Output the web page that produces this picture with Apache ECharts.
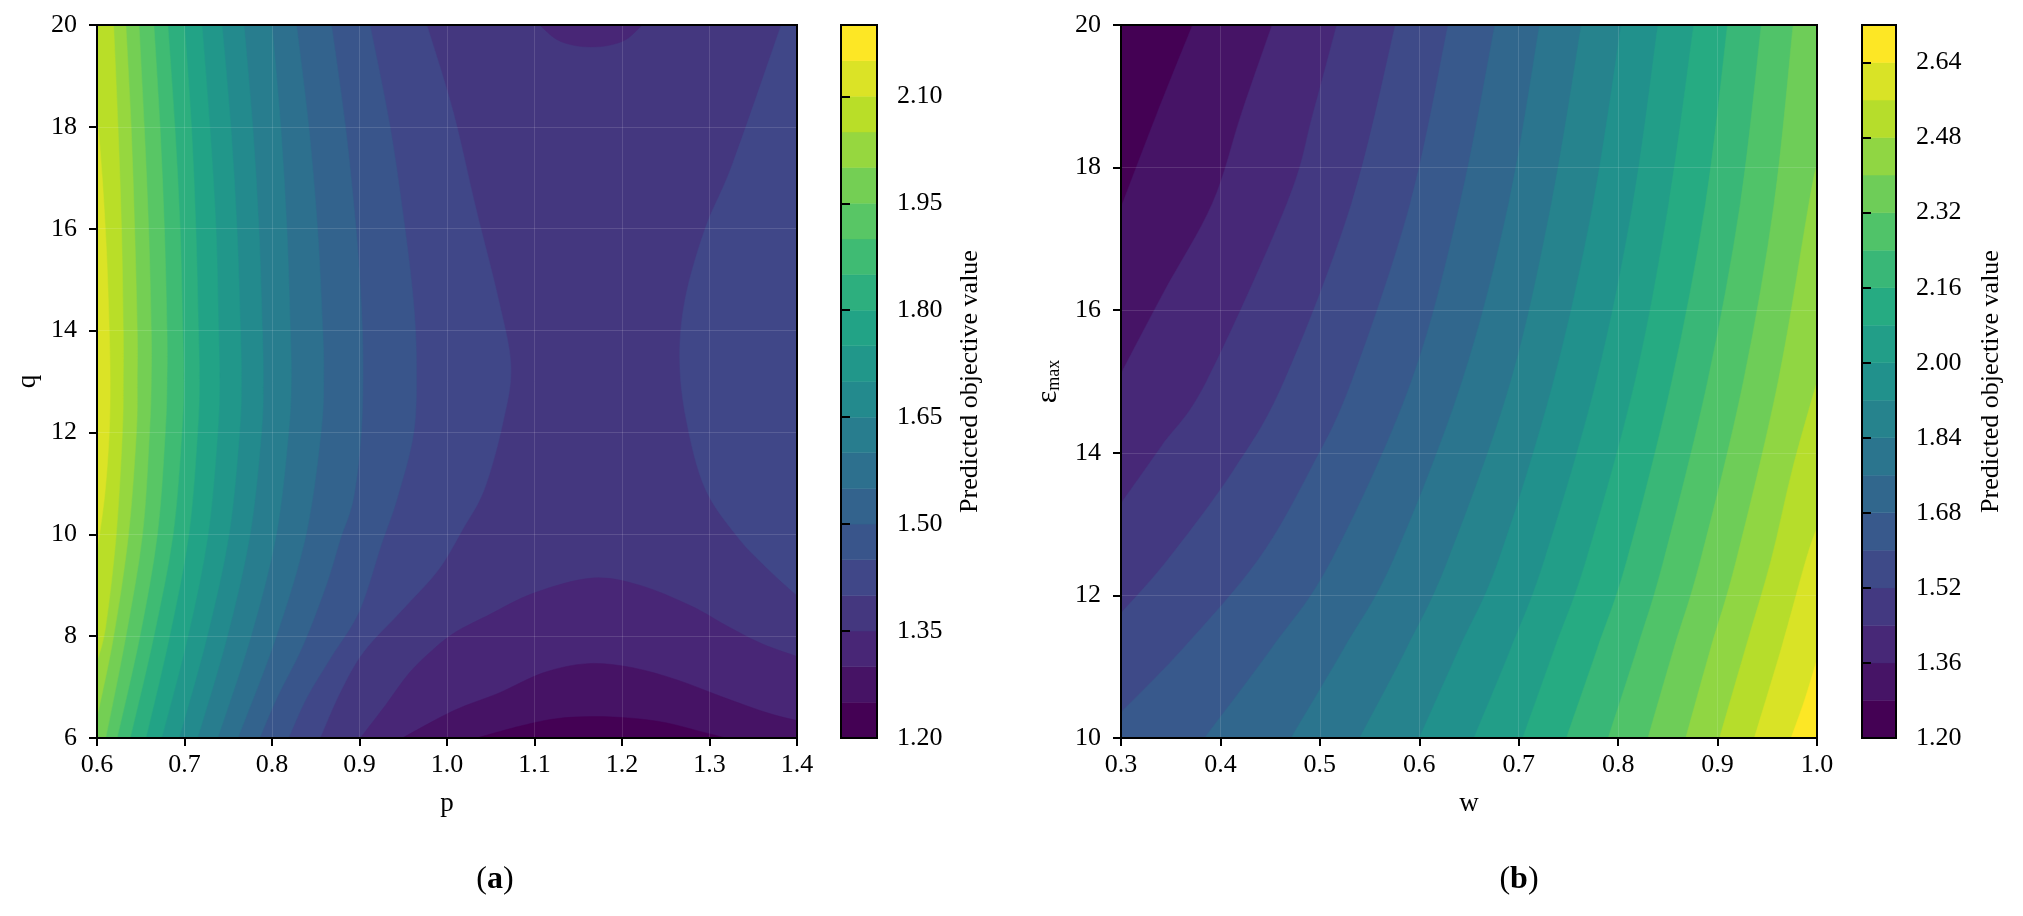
<!DOCTYPE html>
<html>
<head>
<meta charset="utf-8">
<script src="https://cdn.jsdelivr.net/npm/echarts@6.0.0/dist/echarts.min.js"></script>
<style>
  html, body { margin: 0; padding: 0; background: #fff; }
  #chart { width: 2023px; height: 916px; }
</style>
</head>
<body>
<div id="chart"></div>
<script>
// ---- axis ranges ----
var pRange = [0.6, 1.4];   // panel (a) x
var qRange = [6, 20];      // panel (a) y
var wRange = [0.3, 1.0];   // panel (b) x
var eRange = [10, 20];     // panel (b) y

// ---- contour levels / colorbar ticks ----
var levelsA = [1.20, 1.25, 1.30, 1.35, 1.40, 1.45, 1.50, 1.55, 1.60, 1.65, 1.70,
               1.75, 1.80, 1.85, 1.90, 1.95, 2.00, 2.05, 2.10, 2.15, 2.20];
var levelsB = [1.20, 1.28, 1.36, 1.44, 1.52, 1.60, 1.68, 1.76, 1.84, 1.92, 2.00,
               2.08, 2.16, 2.24, 2.32, 2.40, 2.48, 2.56, 2.64, 2.72];
var cbTicksA = [1.20, 1.35, 1.50, 1.65, 1.80, 1.95, 2.10];
var cbTicksB = [1.20, 1.36, 1.52, 1.68, 1.84, 2.00, 2.16, 2.32, 2.48, 2.64];

// ---- panel (a) contour lines, [p, q] ----
// left family, traced top -> bottom (higher values on the left)
var leftA = [
  [1.40, [[0.977,20],[1.007,18.3],[1.033,16.4],[1.059,14.6],[1.073,13.3],[1.064,12.2],[1.043,10.9],[1.018,10.1],[0.990,9.3],[0.948,8.5],[0.905,7.7],[0.878,6.9],[0.855,6]]],
  [1.45, [[0.912,20],[0.935,18],[0.952,16],[0.962,14.5],[0.965,13.3],[0.962,12],[0.943,10.7],[0.925,9.8],[0.900,8.5],[0.868,7.6],[0.840,6.8],[0.819,6]]],
  [1.50, [[0.868,20],[0.884,18],[0.896,16],[0.902,14.5],[0.904,13.3],[0.902,12],[0.893,10.7],[0.878,9.9],[0.862,9],[0.835,7.8],[0.806,6.8],[0.786,6]]],
  [1.55, [[0.828,20],[0.842,18],[0.852,16],[0.858,14],[0.859,13],[0.856,12],[0.839,10],[0.805,8],[0.761,6]]],
  [1.60, [[0.800,20],[0.810,18],[0.817,16],[0.821,14],[0.822,13],[0.819,12],[0.805,10],[0.776,8],[0.738,6]]],
  [1.65, [[0.768,20],[0.778,18],[0.785,16],[0.789,14],[0.790,13],[0.788,12],[0.775,10],[0.749,8],[0.715,6]]],
  [1.70, [[0.743,20],[0.753,18],[0.760,16],[0.764,14],[0.765,13],[0.763,12],[0.751,10],[0.726,8],[0.694,6]]],
  [1.75, [[0.720,20],[0.729,18],[0.736,16],[0.739,14],[0.740,13],[0.738,12],[0.727,10],[0.704,8],[0.674,6]]],
  [1.80, [[0.700,20],[0.708,18],[0.713,16],[0.716,14],[0.717,13],[0.715,12],[0.705,10],[0.683,8],[0.656,6]]],
  [1.85, [[0.681,20],[0.689,18],[0.695,16],[0.698,14],[0.699,13],[0.697,12],[0.687,10],[0.665,8],[0.638,6]]],
  [1.90, [[0.665,20],[0.672,18],[0.677,16],[0.680,14],[0.680,13],[0.678,12],[0.669,10],[0.649,8],[0.623,6]]],
  [1.95, [[0.648,20],[0.654,18],[0.659,16],[0.662,14],[0.662,13],[0.660,12],[0.652,10],[0.633,8],[0.610,6]]],
  [2.00, [[0.633,20],[0.639,18],[0.643,16],[0.646,14],[0.646,13],[0.645,12],[0.636,10],[0.619,8],[0.600,6.4]]],
  [2.05, [[0.619,20],[0.624,18],[0.628,16],[0.630,14],[0.630,13],[0.629,12],[0.622,10],[0.610,8.2],[0.600,7.5]]],
  [2.10, [[0.600,18.3],[0.606,17],[0.611,15.5],[0.614,14],[0.615,13],[0.614,12],[0.609,10.8],[0.600,9.65]]]
];
// right side, traced bottom -> top (higher values on the right)
var rightA = [
  [1.40, [[1.4,8.8],[1.365,9.35],[1.332,9.95],[1.295,10.9],[1.274,12.2],[1.266,13.4],[1.272,14.6],[1.295,16],[1.327,17.3],[1.382,20]]]
];
// dip at the top edge, traced right -> left (lower values inside)
var topA = [
  [1.35, [[1.223,20],[1.205,19.72],[1.185,19.6],[1.165,19.57],[1.145,19.6],[1.125,19.72],[1.106,20]]]
];
// valley at the bottom edge, traced left -> right (lower values below)
var bottomA = [
  [1.35, [[0.901,6],[0.930,6.65],[0.957,7.28],[0.985,7.75],[1.010,8.08],[1.046,8.4],[1.10,8.85],[1.166,9.14],[1.22,9.0],[1.278,8.6],[1.32,8.2],[1.36,7.85],[1.4,7.6]]],
  [1.30, [[0.949,6],[1.008,6.54],[1.059,6.88],[1.110,7.28],[1.161,7.46],[1.212,7.38],[1.263,7.14],[1.314,6.81],[1.365,6.5],[1.4,6.34]]],
  [1.25, [[1.034,6],[1.085,6.24],[1.125,6.38],[1.166,6.42],[1.21,6.39],[1.25,6.3],[1.289,6.13],[1.319,6]]]
];

// ---- panel (b) contour lines, [w, eps], traced from the low/left end upward ----
var linesB = [
  [1.28, [[0.3,17.44],[0.336,18.75],[0.372,20]]],
  [1.36, [[0.3,15.11],[0.343,16.25],[0.392,17.5],[0.421,18.75],[0.452,20]]],
  [1.44, [[0.3,13.29],[0.341,14.1],[0.386,15],[0.467,17.5],[0.493,18.75],[0.517,20]]],
  [1.52, [[0.3,11.75],[0.347,12.5],[0.413,13.75],[0.464,15],[0.532,17.5],[0.576,20]]],
  [1.60, [[0.3,10.36],[0.362,11.25],[0.438,12.5],[0.490,13.75],[0.532,15],[0.591,17.5],[0.629,20]]],
  [1.68, [[0.384,10],[0.451,11.25],[0.512,12.5],[0.592,15],[0.641,17.5],[0.676,20]]],
  [1.76, [[0.471,10],[0.524,11.25],[0.574,12.5],[0.643,15],[0.690,17.5],[0.721,20]]],
  [1.84, [[0.540,10],[0.587,11.25],[0.629,12.5],[0.692,15],[0.733,17.5],[0.763,20]]],
  [1.92, [[0.600,10],[0.640,11.25],[0.680,12.5],[0.735,15],[0.775,17.5],[0.803,20]]],
  [2.00, [[0.655,10],[0.692,11.25],[0.726,12.5],[0.778,15],[0.815,17.5],[0.840,20]]],
  [2.08, [[0.704,10],[0.736,11.25],[0.768,12.5],[0.817,15],[0.851,17.5],[0.876,20]]],
  [2.16, [[0.748,10],[0.779,11.25],[0.809,12.5],[0.854,15],[0.888,17.5],[0.910,20]]],
  [2.24, [[0.790,10],[0.819,11.25],[0.846,12.5],[0.890,15],[0.923,17.5],[0.944,20]]],
  [2.32, [[0.830,10],[0.856,11.25],[0.883,12.5],[0.926,15],[0.957,17.5],[0.976,20]]],
  [2.40, [[0.868,10],[0.893,11.25],[0.919,12.5],[0.961,15],[0.992,17.5],[1.0,18.05]]],
  [2.48, [[0.902,10],[0.928,11.25],[0.954,12.5],[0.975,13.75],[1.0,15.0]]],
  [2.56, [[0.937,10],[0.964,11.25],[0.989,12.5],[1.0,12.95]]],
  [2.64, [[0.974,10],[0.988,10.55],[1.0,11.1]]]
];

// ---- colours ----
var VIRIDIS = ['#440154','#482475','#414487','#355f8d','#2a788e','#21918c',
               '#22a884','#44bf70','#7ad151','#bddf26','#fde725'];
function hexRgb(h) { return [parseInt(h.substr(1,2),16), parseInt(h.substr(3,2),16), parseInt(h.substr(5,2),16)]; }
function viridis(t) {
  t = Math.max(0, Math.min(1, t));
  var s = t * 10, i = Math.min(9, Math.floor(s)), f = s - i;
  var a = hexRgb(VIRIDIS[i]), b = hexRgb(VIRIDIS[i + 1]);
  return 'rgb(' + [0,1,2].map(function (k) { return Math.round(a[k] + (b[k] - a[k]) * f); }).join(',') + ')';
}
function bandColor(k, nBands) { return viridis(k / (nBands - 1)); }
function bandOf(levels, v) {
  var best = 0;
  levels.forEach(function (l, i) { if (Math.abs(l - v) < Math.abs(levels[best] - v)) best = i; });
  return best;
}

// regions painted in order: base fill, then areas above / below each traced line
function buildRegions(levels, baseLevel, above, below) {
  var out = [{ band: bandOf(levels, baseLevel) }];
  above.forEach(function (c) { out.push({ band: bandOf(levels, c[0]), pts: c[1] }); });
  below.forEach(function (c) { out.push({ band: bandOf(levels, c[0]) - 1, pts: c[1] }); });
  return out;
}
var regionsA = buildRegions(levelsA, 1.35, leftA.concat(rightA), topA.concat(bottomA));
var regionsB = buildRegions(levelsB, 1.20, linesB, []);

// position of a frame point along the border, clockwise from top-left
function perim(pt, box) {
  var x0 = box[0], x1 = box[1], y0 = box[2], y1 = box[3], e = 1e-6;
  if (Math.abs(pt[1] - y1) < e) return (pt[0] - x0) / (x1 - x0);
  if (Math.abs(pt[0] - x1) < e) return 1 + (y1 - pt[1]) / (y1 - y0);
  if (Math.abs(pt[1] - y0) < e) return 2 + (x1 - pt[0]) / (x1 - x0);
  return 3 + (pt[1] - y0) / (y1 - y0);
}

function regionPath(api, pts, box) {
  var px = pts.map(function (d) { return api.coord(d); });
  var s = 'M' + px[0][0] + ' ' + px[0][1];
  for (var i = 0; i < px.length - 1; i++) {
    var p0 = px[i - 1] || px[i], p1 = px[i], p2 = px[i + 1], p3 = px[i + 2] || px[i + 1];
    s += ' C' + [p1[0] + (p2[0] - p0[0]) / 6, p1[1] + (p2[1] - p0[1]) / 6,
                 p2[0] - (p3[0] - p1[0]) / 6, p2[1] - (p3[1] - p1[1]) / 6,
                 p2[0], p2[1]].join(' ');
  }
  // close the area along the frame, walking clockwise from the end back to the start
  var corners = [[box[0], box[3]], [box[1], box[3]], [box[1], box[2]], [box[0], box[2]]];
  var tS = perim(pts[0], box), tE = perim(pts[pts.length - 1], box);
  var dS = (tS - tE + 4) % 4, list = [];
  for (var c = 0; c < 4; c++) {
    var d = (c - tE + 4) % 4;
    if (d > 1e-9 && d < dS) list.push([d, c]);
  }
  list.sort(function (a, b) { return a[0] - b[0]; });
  list.forEach(function (it) {
    var q = api.coord(corners[it[1]]);
    s += ' L' + q[0] + ' ' + q[1];
  });
  return s + ' Z';
}

function regionRenderer(regions, levels, box) {
  return function (params, api) {
    var r = regions[params.dataIndex];
    var col = bandColor(r.band, levels.length - 1);
    if (!r.pts) {
      var a = api.coord([box[0], box[3]]), b = api.coord([box[1], box[2]]);
      return { type: 'rect', shape: { x: a[0], y: a[1], width: b[0] - a[0], height: b[1] - a[1] },
               style: { fill: col } };
    }
    return { type: 'path', z2: params.dataIndex,
             shape: { pathData: regionPath(api, r.pts, box) },
             style: { fill: col, stroke: col, lineWidth: 0.5 } };
  };
}

function barRenderer(levels) {
  return function (params, api) {
    var i = params.dataIndex;
    var a = api.coord([0, levels[i + 1]]), b = api.coord([1, levels[i]]);
    var col = bandColor(i, levels.length - 1);
    return { type: 'rect', shape: { x: a[0], y: a[1], width: b[0] - a[0], height: b[1] - a[1] },
             style: { fill: col, stroke: col, lineWidth: 0.5 } };
  };
}

// ---- styling ----
var FONT = 'Liberation Serif';
var txt = { fontFamily: FONT, fontSize: 26, color: '#000' };
var black = { color: '#000', width: 2 };

function plotAxis(o) {
  return Object.assign({
    type: 'value', z: 5,
    axisLine: { show: true, onZero: false, lineStyle: black },
    axisTick: { show: true, inside: false, length: 8, lineStyle: black },
    axisLabel: Object.assign({ margin: 14 }, txt),
    splitLine: { show: true, lineStyle: { color: 'rgba(255,255,255,0.13)', width: 1 } },
    nameLocation: 'middle',
    nameTextStyle: Object.assign({}, txt, { fontSize: 27 })
  }, o);
}
function barAxis(o) {
  return Object.assign({
    type: 'value', position: 'right', z: 5,
    axisLine: { show: true, lineStyle: black },
    splitLine: { show: false },
    name: 'Predicted objective value', nameLocation: 'middle', nameRotate: 90, nameGap: 80,
    nameTextStyle: Object.assign({}, txt)
  }, o);
}
function fmt(n) { return function (v) { return Number(v).toFixed(n); }; }

var frame = { show: true, borderColor: '#000', borderWidth: 2, backgroundColor: 'transparent', z: 6 };

var option = {
  animation: false,
  backgroundColor: '#fff',
  grid: [
    Object.assign({ left: 97,   top: 25, width: 700, height: 713 }, frame),
    Object.assign({ left: 1121, top: 25, width: 696, height: 713 }, frame),
    Object.assign({ left: 841,  top: 25, width: 36,  height: 713 }, frame),
    Object.assign({ left: 1862, top: 25, width: 34,  height: 713 }, frame)
  ],
  xAxis: [
    plotAxis({ gridIndex: 0, min: pRange[0], max: pRange[1], interval: 0.1, name: 'p', nameGap: 52,
               axisLabel: Object.assign({ margin: 14, formatter: fmt(1) }, txt) }),
    plotAxis({ gridIndex: 1, min: wRange[0], max: wRange[1], interval: 0.1, name: 'w', nameGap: 52,
               axisLabel: Object.assign({ margin: 14, formatter: fmt(1) }, txt) }),
    { type: 'value', gridIndex: 2, min: 0, max: 1, show: false },
    { type: 'value', gridIndex: 3, min: 0, max: 1, show: false }
  ],
  yAxis: [
    plotAxis({ gridIndex: 0, min: qRange[0], max: qRange[1], interval: 2, name: 'q', nameGap: 56,
               axisLabel: Object.assign({ margin: 20 }, txt) }),
    plotAxis({ gridIndex: 1, min: eRange[0], max: eRange[1], interval: 2, name: '{e|ε}{s|max}', nameGap: 58,
               axisLabel: Object.assign({ margin: 20 }, txt),
               nameTextStyle: { rich: {
                 e: { fontFamily: FONT, fontSize: 30, color: '#000' },
                 s: { fontFamily: FONT, fontSize: 18, color: '#000', padding: [12, 0, 0, 0] }
               } } }),
    barAxis({ gridIndex: 2, min: levelsA[0], max: levelsA[levelsA.length - 1],
              axisTick: { show: true, length: 9, lineStyle: black, customValues: cbTicksA },
              axisLabel: Object.assign({ margin: 20, customValues: cbTicksA, formatter: fmt(2) }, txt) }),
    barAxis({ gridIndex: 3, min: levelsB[0], max: levelsB[levelsB.length - 1], nameGap: 82,
              axisTick: { show: true, length: 9, lineStyle: black, customValues: cbTicksB },
              axisLabel: Object.assign({ margin: 20, customValues: cbTicksB, formatter: fmt(2) }, txt) })
  ],
  series: [
    { type: 'custom', xAxisIndex: 0, yAxisIndex: 0, clip: true,
      data: regionsA.map(function () { return [pRange[0], qRange[0]]; }),
      renderItem: regionRenderer(regionsA, levelsA, [pRange[0], pRange[1], qRange[0], qRange[1]]) },
    { type: 'custom', xAxisIndex: 1, yAxisIndex: 1, clip: true,
      data: regionsB.map(function () { return [wRange[0], eRange[0]]; }),
      renderItem: regionRenderer(regionsB, levelsB, [wRange[0], wRange[1], eRange[0], eRange[1]]) },
    { type: 'custom', xAxisIndex: 2, yAxisIndex: 2,
      data: levelsA.slice(0, -1).map(function (l) { return [0.5, l]; }),
      renderItem: barRenderer(levelsA) },
    { type: 'custom', xAxisIndex: 3, yAxisIndex: 3,
      data: levelsB.slice(0, -1).map(function (l) { return [0.5, l]; }),
      renderItem: barRenderer(levelsB) }
  ],
  graphic: [
    { type: 'text', x: 495, y: 880,
      style: { text: '({b|a})', fontFamily: FONT, fontSize: 32, fill: '#000', align: 'center', verticalAlign: 'middle',
               rich: { b: { fontFamily: FONT, fontSize: 32, fontWeight: 'bold', fill: '#000' } } } },
    { type: 'text', x: 1519, y: 880,
      style: { text: '({b|b})', fontFamily: FONT, fontSize: 32, fill: '#000', align: 'center', verticalAlign: 'middle',
               rich: { b: { fontFamily: FONT, fontSize: 32, fontWeight: 'bold', fill: '#000' } } } }
  ]
};

var chart = echarts.init(document.getElementById('chart'));
chart.setOption(option);
</script>
</body>
</html>
